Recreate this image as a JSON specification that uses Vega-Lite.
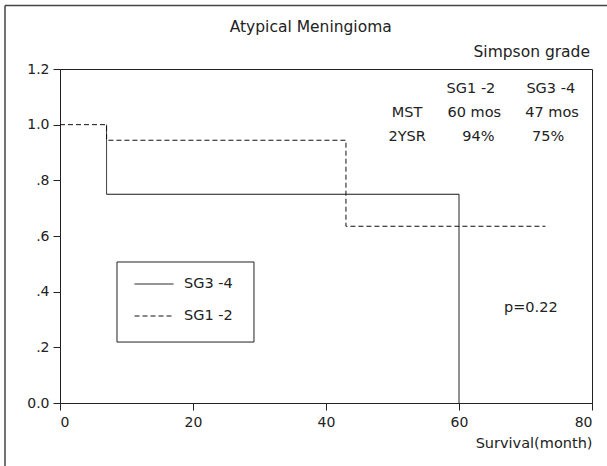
{
  "$schema": "https://vega.github.io/schema/vega-lite/v6.json",
  "width": 532,
  "height": 334,
  "autosize": {"type": "none"},
  "padding": {"left": 60, "top": 69, "right": 15, "bottom": 63},
  "background": "#ffffff",
  "config": {
    "font": "DejaVu Sans",
    "view": {"stroke": "#222", "strokeWidth": 1},
    "axis": {"domainColor": "#222", "tickColor": "#222", "labelColor": "#222", "titleColor": "#222", "grid": false, "labelFont": "DejaVu Sans", "titleFont": "DejaVu Sans", "labelFontSize": 14, "titleFontSize": 14.5, "titleFontWeight": "normal", "tickSize": 7}
  },
  "datasets": {
    "curves": [
      {"group": "SG1 -2", "month": 0, "survival": 1.0},
      {"group": "SG1 -2", "month": 7, "survival": 0.944},
      {"group": "SG1 -2", "month": 43, "survival": 0.635},
      {"group": "SG1 -2", "month": 73, "survival": 0.635},
      {"group": "SG3 -4", "month": 7, "survival": 1.0},
      {"group": "SG3 -4", "month": 7, "survival": 0.75},
      {"group": "SG3 -4", "month": 60, "survival": 0.0}
    ],
    "notes": [
      {"text": "Atypical Meningioma", "month": 37.7, "survival": 1.351, "role": "heading", "anchor": "center"},
      {"text": "Simpson grade", "month": 79.7, "survival": 1.261, "role": "heading", "anchor": "right"},
      {"text": "SG1 -2", "month": 61.8, "survival": 1.128, "role": "table", "anchor": "center"},
      {"text": "SG3 -4", "month": 73.8, "survival": 1.128, "role": "table", "anchor": "center"},
      {"text": "MST", "month": 52.2, "survival": 1.042, "role": "table", "anchor": "center"},
      {"text": "60 mos", "month": 62.3, "survival": 1.042, "role": "table", "anchor": "center"},
      {"text": "47 mos", "month": 74.0, "survival": 1.042, "role": "table", "anchor": "center"},
      {"text": "2YSR", "month": 52.2, "survival": 0.956, "role": "table", "anchor": "center"},
      {"text": "94%", "month": 62.9, "survival": 0.956, "role": "table", "anchor": "center"},
      {"text": "75%", "month": 73.4, "survival": 0.956, "role": "table", "anchor": "center"},
      {"text": "p=0.22", "month": 70.8, "survival": 0.341, "role": "table", "anchor": "center"}
    ],
    "frame": [
      {"month": -8.27, "month2": 82.5, "survival": 1.4285, "survival2": 1.4285},
      {"month": -8.27, "month2": -8.27, "survival": 1.4285, "survival2": -0.23}
    ],
    "legendbox": [
      {"month": 8.57, "month2": 29.17, "survival": 0.5066, "survival2": 0.219}
    ]
  },
  "layer": [
    {
      "data": {"name": "frame"},
      "mark": {"type": "rule", "color": "#444", "strokeWidth": 1.5, "clip": false},
      "encoding": {
        "x": {"field": "month", "type": "quantitative", "scale": {"domain": [0, 80], "nice": false, "zero": false}},
        "x2": {"field": "month2"},
        "y": {"field": "survival", "type": "quantitative", "scale": {"domain": [0, 1.2], "nice": false, "zero": false}},
        "y2": {"field": "survival2"}
      }
    },
    {
      "data": {"name": "legendbox"},
      "mark": {"type": "rect", "fill": null, "fillOpacity": 0, "stroke": "#222", "strokeWidth": 1},
      "encoding": {
        "x": {"field": "month", "type": "quantitative"},
        "x2": {"field": "month2"},
        "y": {"field": "survival", "type": "quantitative"},
        "y2": {"field": "survival2"}
      }
    },
    {
      "data": {"name": "curves"},
      "mark": {"type": "line", "interpolate": "step-after", "color": "#111", "strokeWidth": 1},
      "encoding": {
        "x": {"field": "month", "type": "quantitative", "scale": {"domain": [0, 80], "nice": false},
          "axis": {"values": [0, 20, 40, 60, 80], "title": "Survival(month)", "titleAnchor": "end", "titleAlign": "right", "titlePadding": 7, "labelPadding": 5}},
        "y": {"field": "survival", "type": "quantitative", "scale": {"domain": [0, 1.2], "nice": false},
          "axis": {"values": [0, 0.2, 0.4, 0.6, 0.8, 1.0, 1.2], "title": null, "labelPadding": 4,
            "labelExpr": "datum.value == 0 ? '0.0' : (datum.value >= 1 ? format(datum.value, '.1f') : replace(format(datum.value, '.1f'), '0.', '.'))"}},
        "strokeDash": {"field": "group", "type": "nominal",
          "scale": {"domain": ["SG3 -4", "SG1 -2"], "range": [[1, 0], [5, 3]]},
          "legend": {"orient": "none", "legendX": 57, "legendY": 193, "title": null, "padding": 2,
            "symbolType": "stroke", "symbolSize": 1521, "symbolStrokeWidth": 1, "symbolStrokeColor": "#111", "symbolOffset": 15,
            "labelFontSize": 14.5, "labelColor": "#222", "labelOffset": 10, "rowPadding": 5}},
        "order": {"field": "month", "type": "quantitative"}
      }
    },
    {
      "data": {"name": "notes"},
      "transform": [{"filter": "datum.role == 'table'"}],
      "mark": {"type": "text", "fontSize": 14.5, "color": "#222", "baseline": "middle", "align": "center", "clip": false},
      "encoding": {
        "x": {"field": "month", "type": "quantitative"},
        "y": {"field": "survival", "type": "quantitative"},
        "text": {"field": "text"}
      }
    },
    {
      "data": {"name": "notes"},
      "transform": [{"filter": "datum.role == 'heading' && datum.anchor == 'center'"}],
      "mark": {"type": "text", "fontSize": 15.5, "color": "#222", "baseline": "middle", "align": "center", "clip": false},
      "encoding": {
        "x": {"field": "month", "type": "quantitative"},
        "y": {"field": "survival", "type": "quantitative"},
        "text": {"field": "text"}
      }
    },
    {
      "data": {"name": "notes"},
      "transform": [{"filter": "datum.role == 'heading' && datum.anchor == 'right'"}],
      "mark": {"type": "text", "fontSize": 15.5, "color": "#222", "baseline": "middle", "align": "right", "clip": false},
      "encoding": {
        "x": {"field": "month", "type": "quantitative"},
        "y": {"field": "survival", "type": "quantitative"},
        "text": {"field": "text"}
      }
    }
  ]
}
